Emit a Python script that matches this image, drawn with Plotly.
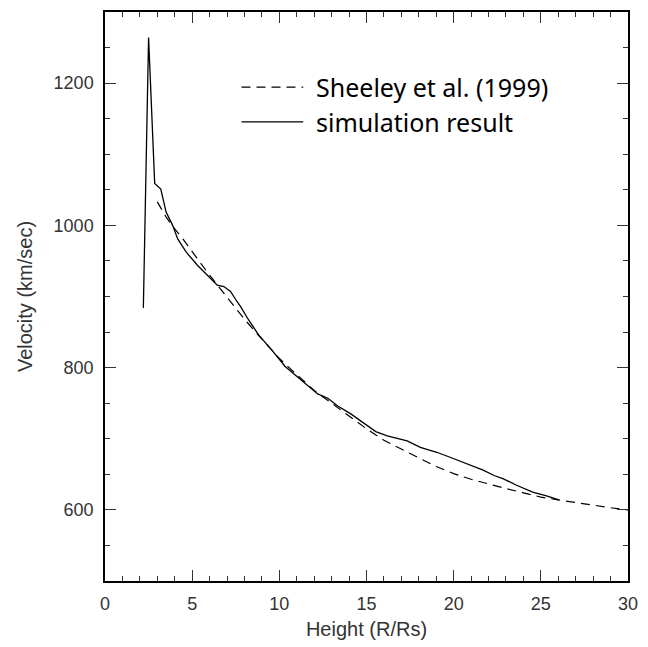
import plotly.graph_objects as go

# Sheeley et al. (1999) profile (dashed)
sheeley_x = [3.0, 3.5, 4.0, 4.5, 5.0, 5.5, 6.0, 7.0, 8.0, 9.0, 10, 11, 12, 13, 14, 15,
             16, 17, 18, 19, 20, 21, 22, 23, 24, 25, 26, 27, 28, 29, 30]
sheeley_v = [1033, 1012, 995, 980, 963, 946, 930, 899, 868, 840, 813, 790, 768, 750, 732, 714,
             698, 685, 673, 661, 651, 643, 636, 630, 624, 618, 614, 610, 606, 603, 600]

# Simulation result (solid)
sim_x = [2.2, 2.5, 2.85, 3.2, 3.5, 3.88, 4.17, 4.64, 5.3, 5.97, 6.44, 6.82, 7.2, 7.57, 7.77,
         8.24, 8.81, 9.56, 10.32, 11.08, 11.65, 12.2, 12.78, 13.35, 14.1, 14.87, 15.53, 16.19,
         17.33, 18.09, 19.03, 19.79, 20.93, 21.69, 22.35, 22.82, 23.58, 24.53, 25.28, 26.04]
sim_v = [884, 1264, 1059, 1051, 1019, 1000, 981, 963, 944, 928, 916, 914, 907, 893, 886,
         867, 846, 825, 802, 786, 774, 763, 757, 746, 735, 721, 710, 704,
         697, 688, 681, 674, 663, 656, 648, 644, 635, 625, 620, 614]

legend_labels = ["Sheeley et al. (1999)", "simulation result"]
x_ticks = [0, 5, 10, 15, 20, 25, 30]
y_ticks = [600, 800, 1000, 1200]

fig = go.Figure()
fig.add_trace(go.Scatter(x=sheeley_x, y=sheeley_v, mode="lines",
                         line=dict(color="black", width=1.2, dash="9px,6px"),
                         showlegend=False))
fig.add_trace(go.Scatter(x=sim_x, y=sim_v, mode="lines",
                         line=dict(color="black", width=1.3), showlegend=False))

tickfont = dict(family="Liberation Sans", size=18, color="#333333")
titlefont = dict(family="Liberation Sans", size=20, color="#333333")
fig.update_xaxes(range=[0, 30], tickvals=x_ticks, ticks="inside", ticklen=11, tickwidth=1,
                 tickcolor="#333", showline=True, linecolor="black", linewidth=1.5,
                 mirror="allticks", showgrid=False, zeroline=False,
                 minor=dict(dtick=1, ticks="inside", ticklen=5, tickcolor="#333", showgrid=False),
                 tickfont=tickfont, ticklabelstandoff=6,
                 title=dict(text="Height (R/Rs)", font=titlefont, standoff=9))
fig.update_yaxes(range=[500, 1300], tickvals=y_ticks, ticks="inside", ticklen=11, tickwidth=1,
                 tickcolor="#333", showline=True, linecolor="black", linewidth=1.5,
                 mirror="allticks", showgrid=False, zeroline=False,
                 minor=dict(dtick=50, ticks="inside", ticklen=5, tickcolor="#333", showgrid=False),
                 tickfont=tickfont, ticklabelstandoff=6,
                 title=dict(text="Velocity (km/sec)", font=titlefont, standoff=16))

# legend drawn manually
leg_font = dict(family="Noto Sans", size=25, color="black")
ys = [0.868, 0.807]
dashes = ["9px,6px", "solid"]
for lab, yy, dsh in zip(legend_labels, ys, dashes):
    fig.add_shape(type="line", xref="paper", yref="paper", x0=0.261, x1=0.379, y0=yy, y1=yy,
                  line=dict(color="black", width=1.3, dash=dsh))
    fig.add_annotation(xref="paper", yref="paper", x=0.40, y=yy, text=lab, showarrow=False,
                       xanchor="left", yanchor="middle", font=leg_font)

fig.update_layout(width=648, height=647, margin=dict(l=105, r=15, t=10, b=64),
                  plot_bgcolor="white", paper_bgcolor="white")
fig.write_html("out.html")
